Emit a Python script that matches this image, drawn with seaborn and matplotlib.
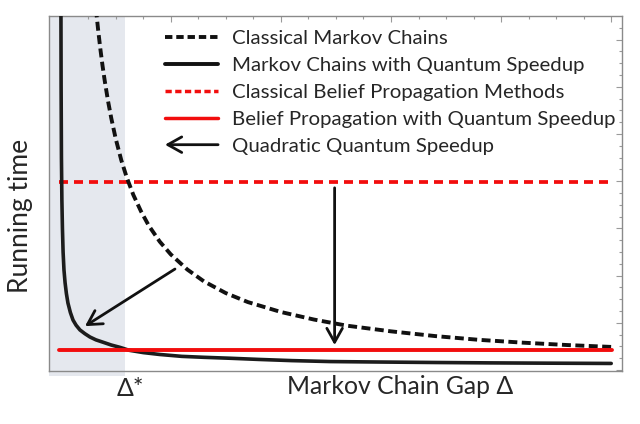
import matplotlib
matplotlib.use("Agg")
import matplotlib.pyplot as plt
import seaborn as sns
from matplotlib.lines import Line2D
from matplotlib.patches import FancyArrowPatch
from matplotlib.legend_handler import HandlerBase
import matplotlib.transforms as mtransforms

# ---------------- data ----------------
delta_classical = [0.32, 0.34, 0.36, 0.38, 0.40, 0.43, 0.46, 0.50, 0.55, 0.60,
                   0.66, 0.73, 0.80, 0.90, 1.00, 1.15, 1.30, 1.50, 1.70, 2.00,
                   2.30, 2.60, 3.00, 3.40, 3.80, 4.20, 4.60, 5.00]
time_classical = [7.66, 7.21, 6.81, 6.45, 6.13, 5.70, 5.33, 4.90, 4.45, 4.08,
                  3.71, 3.36, 3.06, 2.72, 2.45, 2.13, 1.88, 1.63, 1.44, 1.23,
                  1.07, 0.94, 0.82, 0.72, 0.64, 0.58, 0.53, 0.49]

delta_quantum = [0.002, 0.004, 0.007, 0.011, 0.016, 0.022, 0.030, 0.040, 0.052,
                 0.066, 0.088, 0.112, 0.140, 0.175, 0.220, 0.266, 0.320, 0.384,
                 0.460, 0.540, 0.620, 0.750, 0.900, 1.100, 1.300, 1.540, 1.800,
                 2.100, 2.450, 2.900, 3.400, 3.900, 4.400, 5.000]
time_quantum = [8.00, 6.00, 4.50, 3.60, 3.00, 2.50, 2.12, 1.85, 1.62,
                1.42, 1.22, 1.06, 0.95, 0.85, 0.77, 0.70, 0.64, 0.59,
                0.53, 0.48, 0.42, 0.37, 0.33, 0.29, 0.27, 0.25, 0.225,
                0.20, 0.18, 0.17, 0.16, 0.152, 0.146, 0.140]

bp_delta = [-0.015, 5.01]
bp_classical = [3.98, 3.98]
bp_quantum = [0.42, 0.42]

delta_star = 0.584

labels = ["Classical Markov Chains",
          "Markov Chains with Quantum Speedup",
          "Classical Belief Propagation Methods",
          "Belief Propagation with Quantum Speedup",
          "Quadratic Quantum Speedup"]

# ---------------- style ----------------
sns.set_theme(style="white")
plt.rcParams["font.family"] = ["Lato", "DejaVu Sans"]

W, H = 640, 424
fig = plt.figure(figsize=(W / 100, H / 100), dpi=100)
ax = fig.add_axes([49 / W, (H - 371) / H, 573 / W, 355 / H])

RED = "#f20d0d"
BLACK = "#111111"
SHADE = "#e5e8ee"

ax.set_xlim(-0.106, 5.098)
ax.set_ylim(-0.02, 7.5)

# shaded region
ax.axvspan(-0.106, delta_star, ymin=-0.013, ymax=1.0, color=SHADE, lw=0,
           zorder=0, clip_on=False)

dash_black = (0, (2.3, 1.15))
dash_red = (0, (2.4, 1.6))

sns.lineplot(x=delta_classical, y=time_classical, ax=ax, color=BLACK,
             lw=2.8, linestyle=dash_black, sort=False, zorder=3)
sns.lineplot(x=delta_quantum, y=time_quantum, ax=ax, color="#1c1c1c",
             lw=2.6, sort=False, zorder=3)
sns.lineplot(x=bp_delta, y=bp_classical, ax=ax, color=RED, lw=2.7,
             linestyle=dash_red, sort=False, zorder=2)
sns.lineplot(x=bp_delta, y=bp_quantum, ax=ax, color=RED, lw=2.8,
             sort=False, zorder=4)

arrow_kw = dict(arrowstyle="->,head_length=0.5,head_width=0.28",
                color=BLACK, lw=2.0, shrinkA=0, shrinkB=0, mutation_scale=20)
ax.annotate("", xy=(0.221, 0.93), xytext=(1.038, 2.14),
            arrowprops=arrow_kw, zorder=5)
ax.annotate("", xy=(2.488, 0.53), xytext=(2.488, 3.86),
            arrowprops=arrow_kw, zorder=5)

# ticks / frame
ax.set_xticks([0, 1, 2, 3, 4, 5])
ax.set_xticks([i * 0.25 for i in range(21)], minor=True)
ax.set_yticks([0, 1, 2, 3, 4, 5, 6, 7])
ax.set_yticks([i * 0.25 for i in range(30)], minor=True)
ax.tick_params(which="both", direction="in", top=True, right=True,
               labelbottom=False, labelleft=False, color="#9a9a9a",
               width=0.8)
ax.tick_params(which="major", length=4.5)
ax.tick_params(which="minor", length=2.2)
for s in ax.spines.values():
    s.set_color("#8a8a8a")
    s.set_linewidth(1.0)

ax.set_xlabel("Markov Chain Gap Δ", fontsize=17.8)
ax.xaxis.label.set_va("center")
ax.xaxis.set_label_coords((400 - 49) / 573, (371 - 387) / 355)
ax.set_ylabel("Running time", fontsize=19)
ax.yaxis.label.set_va("center")
ax.yaxis.set_label_coords((21 - 49) / 573, (371 - 216) / 355)

trans = mtransforms.blended_transform_factory(ax.transData, ax.transAxes)
ax.text(0.63, (371 - 388) / 355, "Δ*", transform=trans, ha="center",
        va="center", fontsize=17.8)


# legend
class ArrowHandle:
    pass


class HandlerArrow(HandlerBase):
    def create_artists(self, legend, orig_handle, xdescent, ydescent,
                       width, height, fontsize, trans):
        y = height / 2 - ydescent
        p = FancyArrowPatch((width - xdescent, y), (-xdescent, y),
                            arrowstyle="->,head_length=0.5,head_width=0.28",
                            mutation_scale=20, lw=2.0, color=BLACK,
                            shrinkA=0, shrinkB=0, transform=trans)
        return [p]


handles = [
    Line2D([], [], color=BLACK, lw=2.8, linestyle=(0, (1.9, 1.0))),
    Line2D([], [], color=BLACK, lw=2.8),
    Line2D([], [], color=RED, lw=2.5, linestyle=(0, (1.8, 1.0))),
    Line2D([], [], color=RED, lw=2.5),
    ArrowHandle(),
]
leg = ax.legend(handles, labels, handler_map={ArrowHandle: HandlerArrow()},
                loc="upper left", bbox_to_anchor=(165 / W, 1 - 30 / H),
                bbox_transform=fig.transFigure, frameon=False, fontsize=14.7,
                handlelength=2.6, handletextpad=0.68, labelspacing=0.47,
                borderpad=0, borderaxespad=0)

fig.savefig("out.png", dpi=100)
